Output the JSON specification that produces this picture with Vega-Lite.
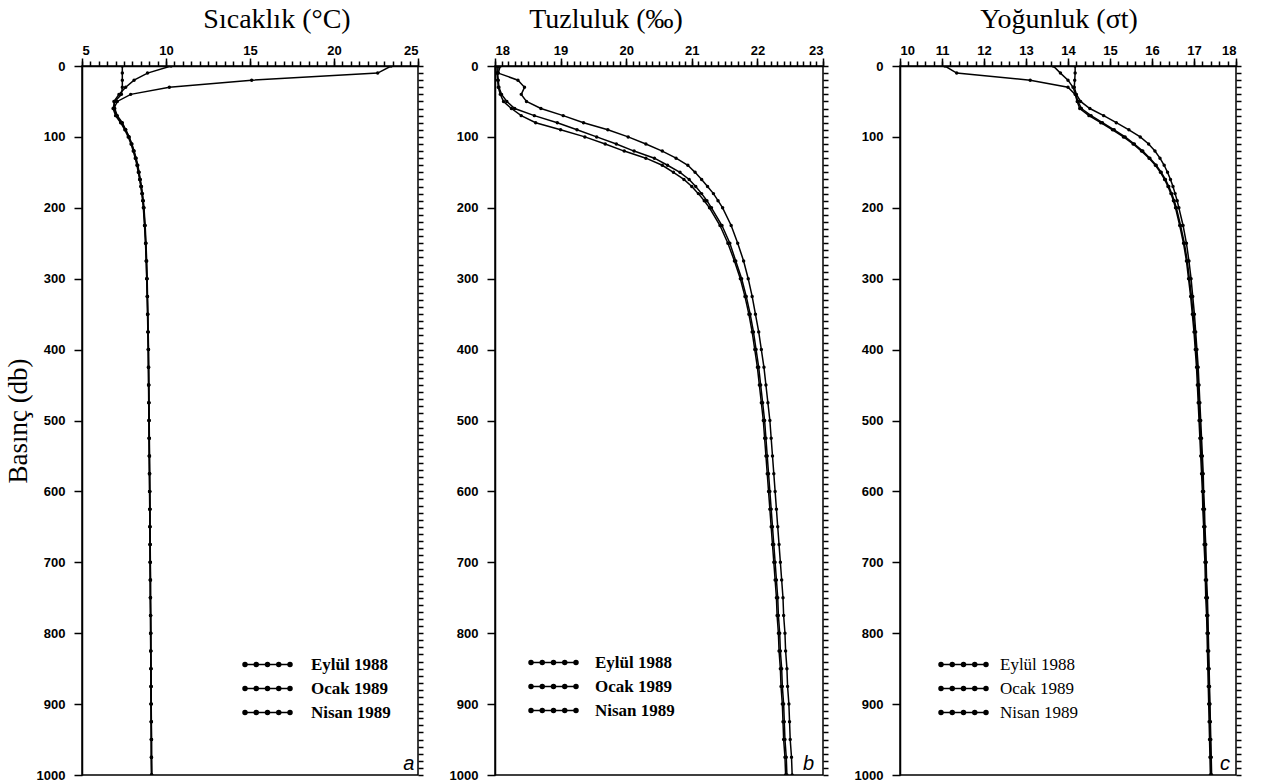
{
"$schema": "https://vega.github.io/schema/vega-lite/v6.json",
"background": "white",
"padding": {"left": 3, "top": 5, "right": 5, "bottom": 2},
"bounds": "flush",
"spacing": 77,
"resolve": {"scale": {"color": "independent"}, "legend": {"color": "independent"}},
"config": {
  "view": {"stroke": "black", "strokeWidth": 1.5},
  "axis": {"labelFont": "Liberation Sans", "labelFontWeight": "bold", "labelFontSize": 13, "labelColor": "black", "domainColor": "black", "domainWidth": 1.5, "tickColor": "black", "tickWidth": 1.5, "grid": false, "titleFont": "Liberation Serif", "titleFontWeight": "normal", "titleFontSize": 27, "titleColor": "black"},
  "title": {"font": "Liberation Serif", "fontSize": 28, "fontWeight": "normal", "color": "black", "anchor": "middle"},
  "legend": {"labelFont": "Liberation Serif", "labelFontSize": 17, "labelFontWeight": "bold", "labelColor": "black", "title": null, "symbolType": "M-4.5,0H4.5M-4.1,0A0.4,0.4 0 1,0 -4.9,0A0.4,0.4 0 1,0 -4.1,0ZM-1.85,0A0.4,0.4 0 1,0 -2.65,0A0.4,0.4 0 1,0 -1.85,0ZM0.4,0A0.4,0.4 0 1,0 -0.4,0A0.4,0.4 0 1,0 0.4,0ZM2.65,0A0.4,0.4 0 1,0 1.85,0A0.4,0.4 0 1,0 2.65,0ZM4.9,0A0.4,0.4 0 1,0 4.1,0A0.4,0.4 0 1,0 4.9,0Z", "symbolSize": 100, "rowPadding": 6, "padding": 0}
},
"datasets": {
  "d": [
{"p":0,"tE":23.4,"tO":7.4,"tN":10.3,"sE":18.05,"sO":18.08,"sN":18.03,"dE":11.07,"dO":14.17,"dN":13.65},
{"p":10,"tE":22.6,"tO":7.4,"tN":8.9,"sE":18.04,"sO":18.05,"sN":18.03,"dE":11.35,"dO":14.17,"dN":13.82},
{"p":20,"tE":15.1,"tO":7.4,"tN":8.1,"sE":18.05,"sO":18.35,"sN":18.04,"dE":13.1,"dO":14.16,"dN":14.0},
{"p":30,"tE":10.2,"tO":7.4,"tN":7.6,"sE":18.06,"sO":18.45,"sN":18.05,"dE":14.0,"dO":14.15,"dN":14.12},
{"p":40,"tE":7.9,"tO":7.35,"tN":7.2,"sE":18.1,"sO":18.4,"sN":18.08,"dE":14.17,"dO":14.2,"dN":14.18},
{"p":50,"tE":7.1,"tO":6.95,"tN":6.9,"sE":18.18,"sO":18.48,"sN":18.13,"dE":14.22,"dO":14.3,"dN":14.24},
{"p":60,"tE":6.9,"tO":6.85,"tN":6.95,"sE":18.3,"sO":18.7,"sN":18.25,"dE":14.28,"dO":14.52,"dN":14.32},
{"p":70,"tE":7.05,"tO":7.0,"tN":7.1,"sE":18.6,"sO":19.04,"sN":18.4,"dE":14.5,"dO":14.85,"dN":14.55},
{"p":80,"tE":7.35,"tO":7.3,"tN":7.4,"sE":18.95,"sO":19.35,"sN":18.62,"dE":14.78,"dO":15.15,"dN":14.82},
{"p":90,"tE":7.6,"tO":7.55,"tN":7.6,"sE":19.25,"sO":19.72,"sN":19.0,"dE":15.06,"dO":15.45,"dN":15.1},
{"p":100,"tE":7.8,"tO":7.75,"tN":7.8,"sE":19.55,"sO":20.03,"sN":19.37,"dE":15.32,"dO":15.72,"dN":15.36},
{"p":110,"tE":7.95,"tO":7.92,"tN":7.97,"sE":19.85,"sO":20.3,"sN":19.68,"dE":15.55,"dO":15.92,"dN":15.58},
{"p":120,"tE":8.08,"tO":8.05,"tN":8.1,"sE":20.12,"sO":20.55,"sN":19.97,"dE":15.75,"dO":16.07,"dN":15.78},
{"p":130,"tE":8.2,"tO":8.17,"tN":8.22,"sE":20.43,"sO":20.76,"sN":20.3,"dE":15.93,"dO":16.19,"dN":15.95},
{"p":140,"tE":8.3,"tO":8.27,"tN":8.32,"sE":20.63,"sO":20.94,"sN":20.55,"dE":16.08,"dO":16.29,"dN":16.1},
{"p":150,"tE":8.38,"tO":8.35,"tN":8.4,"sE":20.82,"sO":21.05,"sN":20.72,"dE":16.2,"dO":16.37,"dN":16.22},
{"p":160,"tE":8.45,"tO":8.43,"tN":8.47,"sE":20.96,"sO":21.15,"sN":20.88,"dE":16.3,"dO":16.44,"dN":16.32},
{"p":170,"tE":8.52,"tO":8.5,"tN":8.54,"sE":21.06,"sO":21.24,"sN":21.0,"dE":16.38,"dO":16.5,"dN":16.4},
{"p":180,"tE":8.58,"tO":8.56,"tN":8.6,"sE":21.15,"sO":21.33,"sN":21.1,"dE":16.45,"dO":16.55,"dN":16.47},
{"p":190,"tE":8.63,"tO":8.61,"tN":8.65,"sE":21.23,"sO":21.4,"sN":21.19,"dE":16.51,"dO":16.6,"dN":16.53},
{"p":200,"tE":8.67,"tO":8.65,"tN":8.69,"sE":21.3,"sO":21.47,"sN":21.27,"dE":16.56,"dO":16.64,"dN":16.58},
{"p":225,"tE":8.74,"tO":8.72,"tN":8.76,"sE":21.46,"sO":21.6,"sN":21.43,"dE":16.66,"dO":16.74,"dN":16.68},
{"p":250,"tE":8.79,"tO":8.78,"tN":8.81,"sE":21.58,"sO":21.7,"sN":21.55,"dE":16.75,"dO":16.82,"dN":16.77},
{"p":275,"tE":8.83,"tO":8.82,"tN":8.85,"sE":21.67,"sO":21.79,"sN":21.65,"dE":16.82,"dO":16.88,"dN":16.84},
{"p":300,"tE":8.86,"tO":8.85,"tN":8.88,"sE":21.76,"sO":21.86,"sN":21.74,"dE":16.87,"dO":16.93,"dN":16.89},
{"p":325,"tE":8.89,"tO":8.88,"tN":8.9,"sE":21.83,"sO":21.92,"sN":21.81,"dE":16.92,"dO":16.97,"dN":16.94},
{"p":350,"tE":8.91,"tO":8.9,"tN":8.92,"sE":21.89,"sO":21.97,"sN":21.87,"dE":16.96,"dO":17.01,"dN":16.98},
{"p":375,"tE":8.93,"tO":8.92,"tN":8.94,"sE":21.94,"sO":22.02,"sN":21.92,"dE":17.0,"dO":17.04,"dN":17.02},
{"p":400,"tE":8.95,"tO":8.94,"tN":8.96,"sE":21.98,"sO":22.06,"sN":21.96,"dE":17.03,"dO":17.07,"dN":17.05},
{"p":425,"tE":8.96,"tO":8.95,"tN":8.97,"sE":22.02,"sO":22.1,"sN":22.0,"dE":17.06,"dO":17.1,"dN":17.08},
{"p":450,"tE":8.97,"tO":8.96,"tN":8.98,"sE":22.05,"sO":22.13,"sN":22.03,"dE":17.08,"dO":17.12,"dN":17.1},
{"p":475,"tE":8.98,"tO":8.97,"tN":8.99,"sE":22.08,"sO":22.16,"sN":22.06,"dE":17.1,"dO":17.14,"dN":17.12},
{"p":500,"tE":8.99,"tO":8.98,"tN":9.0,"sE":22.11,"sO":22.19,"sN":22.09,"dE":17.12,"dO":17.16,"dN":17.14},
{"p":525,"tE":9.0,"tO":8.99,"tN":9.01,"sE":22.13,"sO":22.21,"sN":22.11,"dE":17.14,"dO":17.18,"dN":17.16},
{"p":550,"tE":9.01,"tO":9.0,"tN":9.02,"sE":22.15,"sO":22.23,"sN":22.13,"dE":17.16,"dO":17.2,"dN":17.18},
{"p":575,"tE":9.02,"tO":9.01,"tN":9.03,"sE":22.17,"sO":22.25,"sN":22.15,"dE":17.18,"dO":17.22,"dN":17.2},
{"p":600,"tE":9.03,"tO":9.02,"tN":9.04,"sE":22.19,"sO":22.27,"sN":22.17,"dE":17.2,"dO":17.23,"dN":17.22},
{"p":625,"tE":9.04,"tO":9.03,"tN":9.05,"sE":22.21,"sO":22.29,"sN":22.19,"dE":17.21,"dO":17.25,"dN":17.23},
{"p":650,"tE":9.04,"tO":9.04,"tN":9.05,"sE":22.23,"sO":22.31,"sN":22.21,"dE":17.23,"dO":17.26,"dN":17.25},
{"p":675,"tE":9.05,"tO":9.05,"tN":9.06,"sE":22.25,"sO":22.33,"sN":22.23,"dE":17.24,"dO":17.28,"dN":17.26},
{"p":700,"tE":9.06,"tO":9.05,"tN":9.07,"sE":22.27,"sO":22.35,"sN":22.25,"dE":17.26,"dO":17.29,"dN":17.28},
{"p":725,"tE":9.07,"tO":9.06,"tN":9.08,"sE":22.29,"sO":22.37,"sN":22.27,"dE":17.27,"dO":17.3,"dN":17.29},
{"p":750,"tE":9.07,"tO":9.07,"tN":9.08,"sE":22.31,"sO":22.39,"sN":22.29,"dE":17.28,"dO":17.32,"dN":17.3},
{"p":775,"tE":9.08,"tO":9.08,"tN":9.09,"sE":22.32,"sO":22.4,"sN":22.3,"dE":17.3,"dO":17.33,"dN":17.32},
{"p":800,"tE":9.09,"tO":9.08,"tN":9.1,"sE":22.34,"sO":22.42,"sN":22.32,"dE":17.31,"dO":17.34,"dN":17.33},
{"p":825,"tE":9.09,"tO":9.09,"tN":9.1,"sE":22.35,"sO":22.43,"sN":22.33,"dE":17.32,"dO":17.35,"dN":17.34},
{"p":850,"tE":9.1,"tO":9.1,"tN":9.11,"sE":22.37,"sO":22.45,"sN":22.35,"dE":17.33,"dO":17.36,"dN":17.35},
{"p":875,"tE":9.11,"tO":9.1,"tN":9.12,"sE":22.38,"sO":22.46,"sN":22.36,"dE":17.34,"dO":17.37,"dN":17.36},
{"p":900,"tE":9.11,"tO":9.11,"tN":9.12,"sE":22.4,"sO":22.48,"sN":22.38,"dE":17.35,"dO":17.38,"dN":17.37},
{"p":925,"tE":9.12,"tO":9.12,"tN":9.13,"sE":22.41,"sO":22.49,"sN":22.39,"dE":17.36,"dO":17.39,"dN":17.38},
{"p":950,"tE":9.13,"tO":9.12,"tN":9.14,"sE":22.42,"sO":22.5,"sN":22.4,"dE":17.37,"dO":17.4,"dN":17.39},
{"p":975,"tE":9.13,"tO":9.13,"tN":9.14,"sE":22.44,"sO":22.52,"sN":22.42,"dE":17.38,"dO":17.41,"dN":17.4},
{"p":1000,"tE":9.14,"tO":9.14,"tN":9.15,"sE":22.45,"sO":22.53,"sN":22.43,"dE":17.39,"dO":17.42,"dN":17.41}
  ]
},
"hconcat": [
{
  "width": 336, "height": 709,
  "title": {"text": "Sıcaklık (°C)", "dx": 27, "offset": 10},
  "data": {"name": "d"},
  "transform": [{"fold": ["tE", "tO", "tN"], "as": ["k", "v"]}],
  "layer": [
    {"mark": {"type": "line", "strokeWidth": 1.5, "clip": true},
     "encoding": {
       "x": {"field": "v", "type": "quantitative", "scale": {"domain": [5, 25], "nice": false, "zero": false}, "axis": {"orient": "top", "values": [5, 10, 15, 20, 25], "tickSize": 8, "labelPadding": 1, "title": null}},
       "y": {"field": "p", "type": "quantitative", "scale": {"domain": [0, 1000], "reverse": true, "nice": false}, "axis": {"values": [0,100,200,300,400,500,600,700,800,900,1000], "format": "d", "tickSize": 8, "labelPadding": 9, "title": "Basınç (db)", "titlePadding": 4}},
       "order": {"field": "p", "type": "quantitative"},
       "color": {"field": "k", "type": "nominal", "scale": {"domain": ["tE", "tO", "tN"], "range": ["black", "black", "black"]},
         "legend": {"orient": "none", "legendX": 177, "legendY": 590, "labelOffset": 35, "labelFontWeight": "bold", "labelExpr": "slice(datum.label,1)=='E'?'Eylül 1988':slice(datum.label,1)=='O'?'Ocak  1989':'Nisan 1989'",
           "encode": {"symbols": {"update": {"fill": {"value": "black"}, "stroke": {"value": "black"}, "strokeWidth": {"value": 1.5}}}}}}
     }},
    {"mark": {"type": "point", "filled": true, "size": 12, "color": "black", "opacity": 1, "clip": true},
     "encoding": {
       "x": {"field": "v", "type": "quantitative", "axis": {"orient": "top", "values": [5,5.5,6,6.5,7,7.5,8,8.5,9,9.5,10,10.5,11,11.5,12,12.5,13,13.5,14,14.5,15,15.5,16,16.5,17,17.5,18,18.5,19,19.5,20,20.5,21,21.5,22,22.5,23,23.5,24,24.5,25], "labels": false, "domain": false, "tickSize": 5, "title": null}},
       "y": {"field": "p", "type": "quantitative", "axis": {"values": [0,10,20,30,40,50,60,70,80,90,100,110,120,130,140,150,160,170,180,190,200,210,220,230,240,250,260,270,280,290,300,310,320,330,340,350,360,370,380,390,400,410,420,430,440,450,460,470,480,490,500,510,520,530,540,550,560,570,580,590,600,610,620,630,640,650,660,670,680,690,700,710,720,730,740,750,760,770,780,790,800,810,820,830,840,850,860,870,880,890,900,910,920,930,940,950,960,970,980,990,1000], "labels": false, "domain": false, "tickSize": 5, "title": null}},
       "detail": {"field": "k"}
     }},
    {"data": {"values": [{"t": "a"}]},
     "mark": {"type": "text", "font": "Liberation Sans", "fontStyle": "italic", "fontSize": 20, "color": "black"},
     "encoding": {"x": {"datum": 24.45, "type": "quantitative", "axis": null}, "y": {"datum": 985, "type": "quantitative", "axis": null}, "text": {"field": "t"}}}
  ],
  "resolve": {"axis": {"x": "independent", "y": "independent"}}
},
{
  "width": 328, "height": 709,
  "title": {"text": "Tuzluluk (‰)", "dx": -53, "offset": 10},
  "data": {"name": "d"},
  "transform": [{"fold": ["sE", "sO", "sN"], "as": ["k", "v"]}],
  "layer": [
    {"mark": {"type": "line", "strokeWidth": 1.5, "clip": true},
     "encoding": {
       "x": {"field": "v", "type": "quantitative", "scale": {"domain": [18, 23], "nice": false, "zero": false}, "axis": {"orient": "top", "values": [18, 19, 20, 21, 22, 23], "tickSize": 8, "labelPadding": 1, "title": null}},
       "y": {"field": "p", "type": "quantitative", "scale": {"domain": [0, 1000], "reverse": true, "nice": false}, "axis": {"values": [0,100,200,300,400,500,600,700,800,900,1000], "format": "d", "tickSize": 8, "labelPadding": 9, "title": null}},
       "order": {"field": "p", "type": "quantitative"},
       "color": {"field": "k", "type": "nominal", "scale": {"domain": ["sE", "sO", "sN"], "range": ["black", "black", "black"]},
         "legend": {"orient": "none", "legendX": 50, "legendY": 588, "labelOffset": 33, "labelFontWeight": "bold", "labelExpr": "slice(datum.label,1)=='E'?'Eylül  1988':slice(datum.label,1)=='O'?'Ocak  1989':'Nisan  1989'",
           "encode": {"symbols": {"update": {"fill": {"value": "black"}, "stroke": {"value": "black"}, "strokeWidth": {"value": 1.5}}}}}}
     }},
    {"mark": {"type": "point", "filled": true, "size": 12, "color": "black", "opacity": 1, "clip": true},
     "encoding": {
       "x": {"field": "v", "type": "quantitative", "axis": {"orient": "top", "values": [18,18.1,18.2,18.3,18.4,18.5,18.6,18.7,18.8,18.9,19,19.1,19.2,19.3,19.4,19.5,19.6,19.7,19.8,19.9,20,20.1,20.2,20.3,20.4,20.5,20.6,20.7,20.8,20.9,21,21.1,21.2,21.3,21.4,21.5,21.6,21.7,21.8,21.9,22,22.1,22.2,22.3,22.4,22.5,22.6,22.7,22.8,22.9,23], "labels": false, "domain": false, "tickSize": 5, "title": null}},
       "y": {"field": "p", "type": "quantitative", "axis": {"values": [0,10,20,30,40,50,60,70,80,90,100,110,120,130,140,150,160,170,180,190,200,210,220,230,240,250,260,270,280,290,300,310,320,330,340,350,360,370,380,390,400,410,420,430,440,450,460,470,480,490,500,510,520,530,540,550,560,570,580,590,600,610,620,630,640,650,660,670,680,690,700,710,720,730,740,750,760,770,780,790,800,810,820,830,840,850,860,870,880,890,900,910,920,930,940,950,960,970,980,990,1000], "labels": false, "domain": false, "tickSize": 5, "title": null}},
       "detail": {"field": "k"}
     }},
    {"data": {"values": [{"t": "b"}]},
     "mark": {"type": "text", "font": "Liberation Sans", "fontStyle": "italic", "fontSize": 20, "color": "black"},
     "encoding": {"x": {"datum": 22.78, "type": "quantitative", "axis": null}, "y": {"datum": 985, "type": "quantitative", "axis": null}, "text": {"field": "t"}}}
  ],
  "resolve": {"axis": {"x": "independent", "y": "independent"}}
},
{
  "width": 336, "height": 709,
  "title": {"text": "Yoğunluk (σt)", "dx": -9, "offset": 10},
  "data": {"name": "d"},
  "transform": [{"fold": ["dE", "dO", "dN"], "as": ["k", "v"]}],
  "layer": [
    {"mark": {"type": "line", "strokeWidth": 1.5, "clip": true},
     "encoding": {
       "x": {"field": "v", "type": "quantitative", "scale": {"domain": [10, 18], "nice": false, "zero": false}, "axis": {"orient": "top", "values": [10,11,12,13,14,15,16,17,18], "tickSize": 8, "labelPadding": 1, "title": null}},
       "y": {"field": "p", "type": "quantitative", "scale": {"domain": [0, 1000], "reverse": true, "nice": false}, "axis": {"values": [0,100,200,300,400,500,600,700,800,900,1000], "format": "d", "tickSize": 8, "labelPadding": 9, "title": null}},
       "order": {"field": "p", "type": "quantitative"},
       "color": {"field": "k", "type": "nominal", "scale": {"domain": ["dE", "dO", "dN"], "range": ["black", "black", "black"]},
         "legend": {"orient": "none", "legendX": 55, "legendY": 590, "labelOffset": 28, "labelFontWeight": "normal", "labelExpr": "slice(datum.label,1)=='E'?'Eylül  1988':slice(datum.label,1)=='O'?'Ocak  1989':'Nisan 1989'",
           "encode": {"symbols": {"update": {"fill": {"value": "black"}, "stroke": {"value": "black"}, "strokeWidth": {"value": 1.5}}}}}}
     }},
    {"mark": {"type": "point", "filled": true, "size": 12, "color": "black", "opacity": 1, "clip": true},
     "encoding": {
       "x": {"field": "v", "type": "quantitative", "axis": {"orient": "top", "values": [10,10.2,10.4,10.6,10.8,11,11.2,11.4,11.6,11.8,12,12.2,12.4,12.6,12.8,13,13.2,13.4,13.6,13.8,14,14.2,14.4,14.6,14.8,15,15.2,15.4,15.6,15.8,16,16.2,16.4,16.6,16.8,17,17.2,17.4,17.6,17.8,18], "labels": false, "domain": false, "tickSize": 5, "title": null}},
       "y": {"field": "p", "type": "quantitative", "axis": {"values": [0,10,20,30,40,50,60,70,80,90,100,110,120,130,140,150,160,170,180,190,200,210,220,230,240,250,260,270,280,290,300,310,320,330,340,350,360,370,380,390,400,410,420,430,440,450,460,470,480,490,500,510,520,530,540,550,560,570,580,590,600,610,620,630,640,650,660,670,680,690,700,710,720,730,740,750,760,770,780,790,800,810,820,830,840,850,860,870,880,890,900,910,920,930,940,950,960,970,980,990,1000], "labels": false, "domain": false, "tickSize": 5, "title": null}},
       "detail": {"field": "k"}
     }},
    {"data": {"values": [{"t": "c"}]},
     "mark": {"type": "text", "font": "Liberation Sans", "fontStyle": "italic", "fontSize": 20, "color": "black"},
     "encoding": {"x": {"datum": 17.74, "type": "quantitative", "axis": null}, "y": {"datum": 985, "type": "quantitative", "axis": null}, "text": {"field": "t"}}}
  ],
  "resolve": {"axis": {"x": "independent", "y": "independent"}}
}
]
}
